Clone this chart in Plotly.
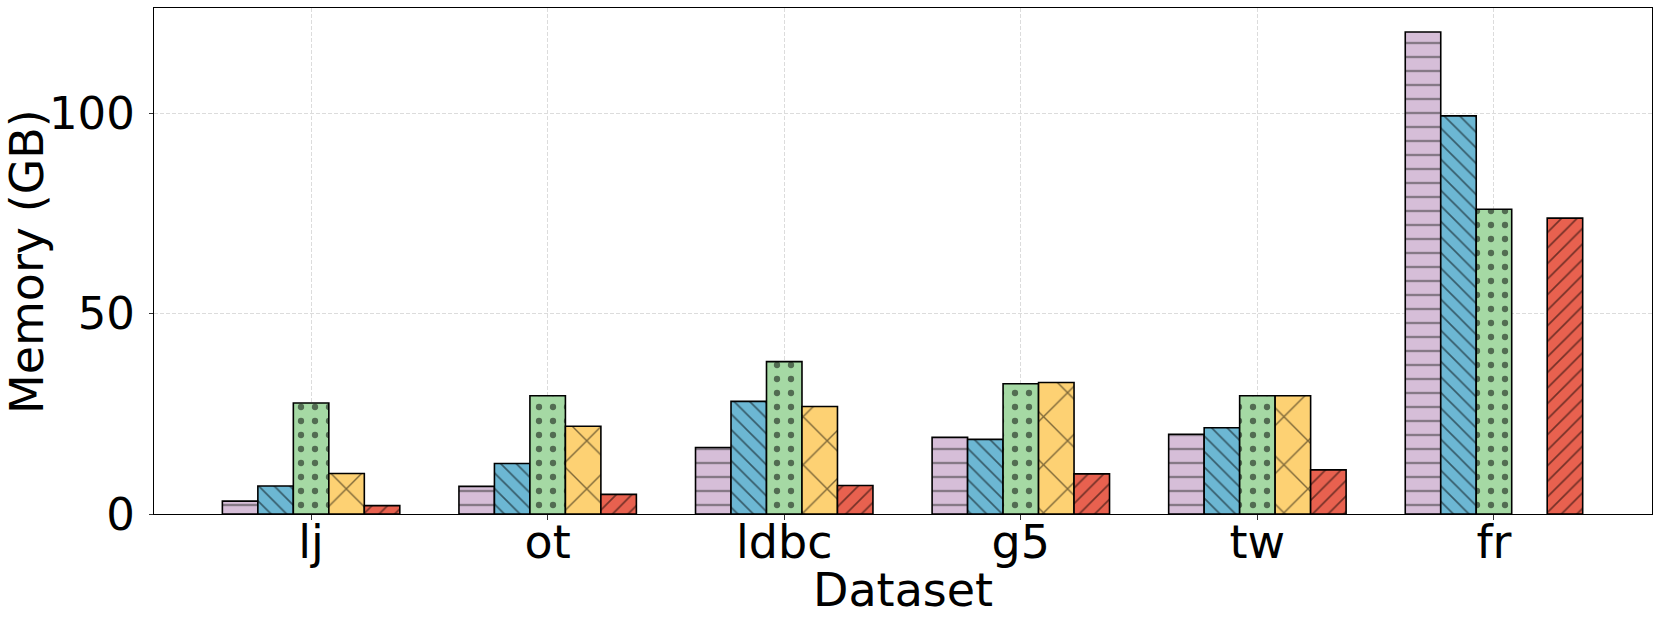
import plotly.graph_objects as go

categories = ["lj", "ot", "ldbc", "g5", "tw", "fr"]
series_names = ["S1", "S2", "S3", "S4", "S5"]
s1 = [3.2, 6.9, 16.6, 19.1, 19.9, 120.2]
s2 = [7.0, 12.6, 28.1, 18.6, 21.5, 99.3]
s3 = [27.7, 29.5, 38.0, 32.5, 29.5, 76.0]
s4 = [10.1, 21.9, 26.8, 32.8, 29.5, None]
s5 = [2.1, 4.9, 7.1, 10.0, 11.0, 73.8]
y_ticks = [0, 50, 100]
x_title = "Dataset"
y_title = "Memory (GB)"

series = [s1, s2, s3, s4, s5]
colors = ["#D6BED8", "#6CB7D3", "#A5D9A4", "#FDD173", "#E8614F"]
shapes = ["-", "\\", ".", "x", "/"]
sizes = [14, 11, 14, 34, 11]
solidities = [0.17, 0.15, 0.16, 0.08, 0.15]
fgcolors = ["#333333", "#000000", "#000000", "#000000", "#000000"]

fig = go.Figure()
for name, vals, c, sh, sz, so, fg in zip(series_names, series, colors, shapes, sizes, solidities, fgcolors):
    fig.add_trace(go.Bar(
        x=categories, y=vals, name=name,
        marker=dict(
            color=c,
            line=dict(color="black", width=1.6),
            pattern=dict(shape=sh, size=sz, solidity=so, fgcolor=fg, bgcolor=c, fillmode="overlay"),
        ),
        showlegend=False,
    ))

font_family = "DejaVu Sans"
fig.update_layout(
    width=1660, height=625,
    margin=dict(l=154, r=8, t=8, b=111),
    barmode="group", bargap=0.25, bargroupgap=0,
    plot_bgcolor="white", paper_bgcolor="white",
    font=dict(family=font_family, size=46, color="black"),
    xaxis=dict(
        range=[-0.664, 5.668],
        showline=True, linecolor="black", linewidth=1.2, mirror=True,
        ticks="outside", ticklen=5, tickcolor="#333333", tickwidth=1.2,
        showgrid=True, gridcolor="#dcdcdc", gridwidth=1, griddash="4px,2px",
        tickfont=dict(size=46),
        ticklabelstandoff=-17,
        automargin=False,
        layer="above traces",
    ),
    yaxis=dict(
        range=[0, 126.2],
        tickvals=y_ticks,
        showline=True, linecolor="black", linewidth=1.2, mirror=True,
        ticks="outside", ticklen=4, tickcolor="#333333", tickwidth=1.2,
        showgrid=True, gridcolor="#dcdcdc", gridwidth=1, griddash="4px,2px",
        zeroline=False,
        tickfont=dict(size=45),
        ticklabelstandoff=5,
        automargin=False,
        layer="above traces",
    ),
    annotations=[
        dict(text=x_title, xref="paper", yref="paper", x=0.5, y=0,
             xanchor="center", yanchor="top", yshift=-47, showarrow=False,
             font=dict(size=46, family=font_family, color="black")),
        dict(text=y_title, xref="paper", yref="paper", x=0, y=0.5,
             xanchor="right", yanchor="middle", xshift=-98, textangle=-90,
             showarrow=False, font=dict(size=46, family=font_family, color="black")),
    ],
)

fig.write_html("out.html", config={"displayModeBar": False},
               post_script="document.body.style.margin='0px';")
